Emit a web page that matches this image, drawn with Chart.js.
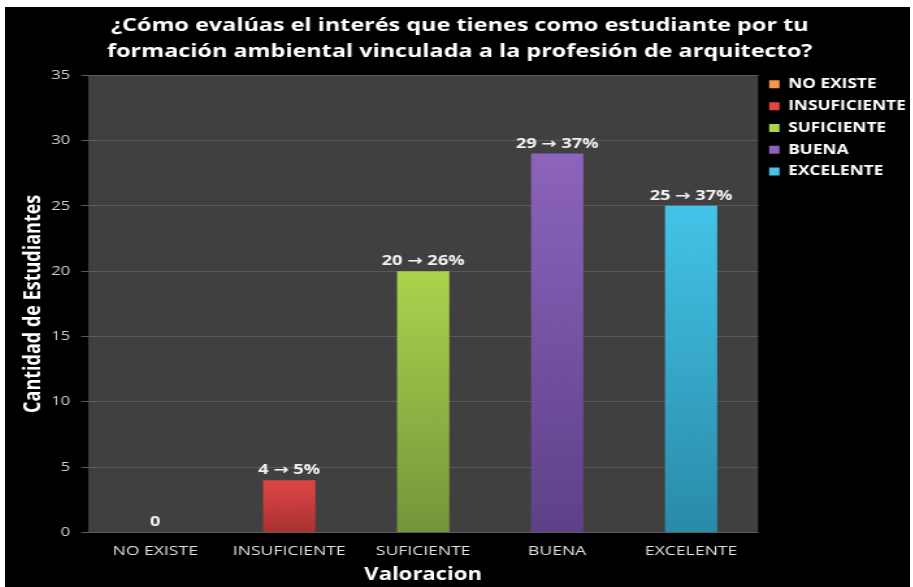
<!DOCTYPE html>
<html>
<head>
<meta charset="utf-8">
<script src="https://cdn.jsdelivr.net/npm/chart.js@4"></script>
<style>
  html, body { margin: 0; padding: 0; background: #fff; }
  #wrap { position: absolute; left: 5px; top: 7px; width: 905px; height: 580px; background: #000; overflow: hidden; }
  /* la imagen original está estirada a lo ancho */
  #lienzo { position: absolute; left: 0; top: 0; width: 696px; height: 580px; transform: scaleX(1.3); transform-origin: 0 0; }
</style>
</head>
<body>
<div id="wrap"><div id="lienzo"><canvas id="grafico"></canvas></div></div>
<script>
// Datos del gráfico
const categorias = ['NO EXISTE', 'INSUFICIENTE', 'SUFICIENTE', 'BUENA', 'EXCELENTE'];
const estudiantes = [0, 4, 20, 29, 25];
const etiquetas = ['0', '4 → 5%', '20 → 26%', '29 → 37%', '25 → 37%'];
const ticksY = [0, 5, 10, 15, 20, 25, 30, 35];

// Colores (arriba, abajo) de cada barra
const colorArriba = ['#f79646', '#e04646', '#abd44e', '#8c64bc', '#43c4e8'];
const colorAbajo = ['#c06a28', '#a83232', '#74953a', '#5e4088', '#2a8aa8'];

const fuente = "'Open Sans', 'DejaVu Sans', sans-serif";

// Fondo gris del área de trazado
const fondoPlot = {
    id: 'fondoPlot',
    beforeDraw(chart) {
        const a = chart.chartArea;
        const c = chart.ctx;
        c.save();
        c.fillStyle = '#404040';
        c.fillRect(a.left, a.top, a.right - a.left, a.bottom - a.top);
        c.restore();
    }
};

// Ajusta un poco la leyenda y el título para que queden como en la imagen
const ajustarCajas = {
    id: 'ajustarCajas',
    afterLayout(chart) {
        const l = chart.legend;
        if (l) {
            l.top -= 6;
            l.bottom -= 6;
        }
        const t = chart.titleBlock;
        if (t) {
            t.left -= 7;
            t.right -= 7;
        }
    }
};

// Etiquetas encima de las barras
const etiquetasBarras = {
    id: 'etiquetasBarras',
    afterDatasetsDraw(chart) {
        const c = chart.ctx;
        const meta = chart.getDatasetMeta(0);
        c.save();
        c.fillStyle = '#f2f2f2';
        c.font = "bold 14px " + fuente;
        c.textAlign = 'center';
        c.textBaseline = 'bottom';
        meta.data.forEach((bar, i) => {
            c.fillText(etiquetas[i], bar.x, bar.y - 3);
        });
        c.restore();
    }
};

const ctx = document.getElementById('grafico');
const grafico = new Chart(ctx, {
    type: 'bar',
    data: {
        labels: categorias,
        datasets: [{
            label: 'Estudiantes',
            data: estudiantes,
            backgroundColor: function(context) {
                const chart = context.chart;
                const a = chart.chartArea;
                if (!a) return colorArriba[context.dataIndex];
                const i = context.dataIndex;
                const y0 = chart.scales.y.getPixelForValue(estudiantes[i]);
                const g = chart.ctx.createLinearGradient(0, y0, 0, a.bottom);
                g.addColorStop(0, colorArriba[i]);
                g.addColorStop(1, colorAbajo[i]);
                return g;
            },
            categoryPercentage: 1,
            barPercentage: 0.39
        }]
    },
    options: {
        responsive: true,
        maintainAspectRatio: false,
        animation: false,
        layout: { padding: { left: 10.6, right: -7, top: 0, bottom: 2 } },
        plugins: {
            title: {
                display: true,
                text: ['¿Cómo evalúas el interés que tienes como estudiante por tu',
                       'formación ambiental vinculada a la profesión de arquitecto?'],
                color: '#ffffff',
                font: { family: fuente, size: 18, weight: 'bold', lineHeight: 1.45 },
                padding: { top: 6, bottom: 10 }
            },
            legend: {
                display: true,
                position: 'right',
                align: 'start',
                fullSize: false,
                labels: {
                    color: '#ffffff',
                    font: { family: fuente, size: 13.3, weight: 'bold' },
                    boxWidth: 8,
                    boxHeight: 8,
                    padding: 8.5,
                    generateLabels: function() {
                        return categorias.map((cat, i) => ({
                            text: cat,
                            fillStyle: colorArriba[i],
                            strokeStyle: colorArriba[i],
                            fontColor: '#ffffff',
                            lineWidth: 0,
                            index: i
                        }));
                    }
                }
            },
            tooltip: { enabled: false }
        },
        scales: {
            x: {
                grid: { display: false, drawTicks: false },
                border: { display: false },
                ticks: { color: '#e0e0e0', font: { family: fuente, size: 13.5 }, padding: 11 },
                title: {
                    display: true,
                    text: 'Valoracion',
                    color: '#ffffff',
                    font: { family: fuente, size: 17, weight: 'bold' },
                    padding: { top: -6, bottom: 0 }
                }
            },
            y: {
                min: 0,
                max: 35,
                afterBuildTicks: function(axis) {
                    axis.ticks = ticksY.map(v => ({ value: v }));
                },
                grid: { color: '#5a5a5a', tickLength: 5.4, tickColor: '#5a5a5a' },
                border: { display: false },
                ticks: { color: '#cfcfcf', font: { family: fuente, size: 13 }, padding: 8.4 },
                title: {
                    display: true,
                    text: 'Cantidad de Estudiantes',
                    color: '#ffffff',
                    font: { family: fuente, size: 18, weight: 'bold' },
                    padding: { top: 0, bottom: -5.2 }
                }
            }
        }
    },
    plugins: [fondoPlot, ajustarCajas, etiquetasBarras]
});
</script>
</body>
</html>
